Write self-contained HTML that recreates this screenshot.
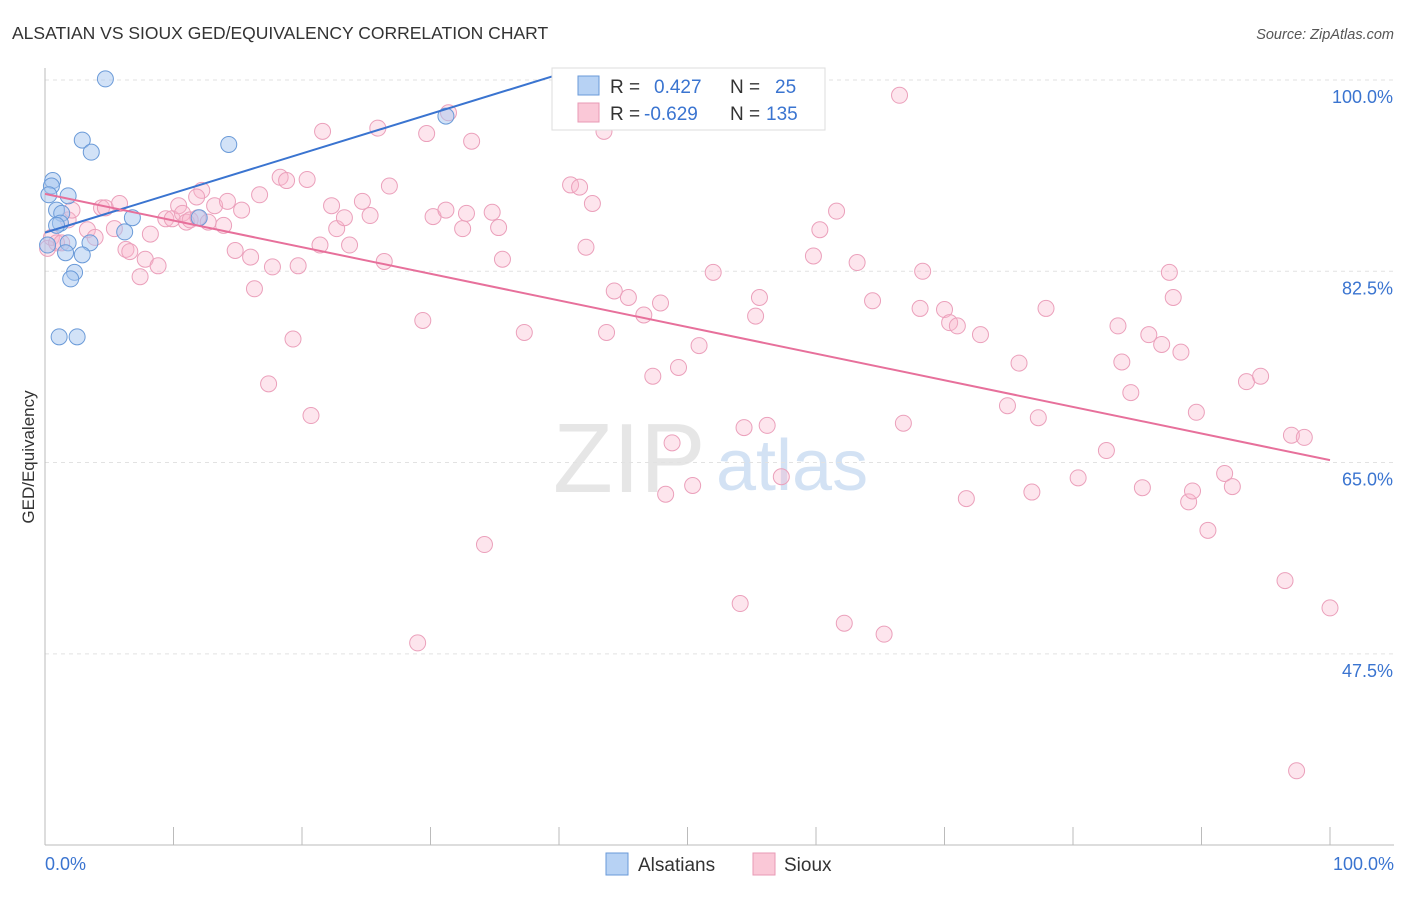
<!DOCTYPE html>
<html><head><meta charset="utf-8">
<style>
body{margin:0;background:#fff;font-family:"Liberation Sans",sans-serif;}
svg text{font-family:"Liberation Sans",sans-serif;}
</style></head>
<body>
<svg id="chart" width="1406" height="892" viewBox="0 0 1406 892" xmlns="http://www.w3.org/2000/svg">
<text x="12" y="39" font-size="17.5" fill="#333">ALSATIAN VS SIOUX GED/EQUIVALENCY CORRELATION CHART</text>
<text x="1394" y="39" font-size="14.5" fill="#555" font-style="italic" text-anchor="end">Source: ZipAtlas.com</text>
<text transform="translate(34,457) rotate(-90)" font-size="17" fill="#333" text-anchor="middle">GED/Equivalency</text>
<g opacity="0.5">
<text x="553" y="492" font-size="98" font-family="Liberation Serif,serif" fill="#cfcfcf">ZIP</text>
<text x="716" y="490" font-size="72" fill="#a9c6ea">atlas</text>
</g>
<g id="grid"></g>
<g id="axes"></g>
<defs><clipPath id="plotclip"><rect x="44" y="74" width="1300" height="772"/></clipPath></defs>
<g id="pts"></g>
<g id="lines" clip-path="url(#plotclip)"></g>
<g>
<rect x="552" y="68" width="273" height="62" fill="#fff" stroke="#ddd"/>
<rect x="578" y="76" width="21" height="19" fill="#b7d2f4" stroke="#6a9ad8"/>
<text x="610" y="93" font-size="19" fill="#333">R =</text>
<text x="654" y="93" font-size="19" fill="#3a74d0">0.427</text>
<text x="730" y="93" font-size="19" fill="#333">N =</text>
<text x="775" y="93" font-size="19" fill="#3a74d0">25</text>
<rect x="578" y="103" width="21" height="19" fill="#fac8d7" stroke="#e89ab5"/>
<text x="610" y="120" font-size="19" fill="#333">R =</text>
<text x="644" y="120" font-size="19" fill="#3a74d0">-0.629</text>
<text x="730" y="120" font-size="19" fill="#333">N =</text>
<text x="766" y="120" font-size="19" fill="#3a74d0">135</text>
</g>
<g>
<rect x="606" y="853" width="22" height="22" fill="#b7d2f4" stroke="#6a9ad8"/>
<text x="638" y="871" font-size="19" fill="#333">Alsatians</text>
<rect x="753" y="853" width="22" height="22" fill="#fac8d7" stroke="#e89ab5"/>
<text x="784" y="871" font-size="19" fill="#333">Sioux</text>
</g>
</svg>
<script>
const yTicks=[100,82.5,65,47.5];
const yTickLabels=["100.0%","82.5%","65.0%","47.5%"];
const xTickLabels=["0.0%","100.0%"];
const alsX=[4.7,2.9,3.6,14.3,31.2,0.6,0.5,0.3,1.8,0.9,1.3,1.2,0.9,6.8,12.0,6.2,1.8,3.5,1.6,2.9,2.3,2.0,1.1,2.5,0.2];
const alsY=[100.1,94.5,93.4,94.1,96.7,90.8,90.3,89.5,89.4,88.1,87.8,86.9,86.7,87.4,87.4,86.1,85.1,85.1,84.2,84.0,82.4,81.8,76.5,76.5,84.9];
const siouxX=[0.2,0.5,0.9,1.3,1.8,2.1,3.3,3.9,4.4,4.7,5.4,5.8,6.3,6.6,7.4,7.8,8.2,8.8,9.4,9.9,10.4,10.7,11.0,11.3,11.9,12.2,11.8,12.7,13.2,13.9,14.2,14.8,15.3,16.0,16.3,16.7,17.4,17.7,18.3,18.8,19.3,19.7,20.4,20.7,21.4,21.6,22.3,22.7,23.3,23.7,24.7,25.3,25.9,26.4,26.8,29.4,29.7,30.2,31.2,31.4,32.5,32.8,33.2,34.2,34.8,35.3,35.6,29.0,37.3,40.9,41.6,42.1,42.6,43.5,43.7,44.3,45.4,46.6,47.3,47.9,48.3,48.8,49.3,50.4,50.9,52.0,54.1,54.4,55.3,55.6,56.2,57.3,59.8,60.3,61.6,62.2,63.2,64.4,65.3,66.5,66.8,68.1,68.3,70.0,70.4,71.0,71.7,72.8,74.9,75.8,76.8,77.3,77.9,80.4,82.6,83.5,83.8,84.5,85.4,85.9,86.9,87.5,87.8,88.4,89.0,89.3,89.6,90.5,91.8,92.4,93.5,94.6,96.5,97.0,98.0,100,97.4];
const siouxY=[84.6,85.6,85.1,85.1,87.2,88.1,86.3,85.6,88.3,88.3,86.4,88.7,84.5,84.3,82.0,83.6,85.9,83.0,87.3,87.3,88.5,87.8,87.0,87.2,87.4,89.9,89.3,87.0,88.5,86.7,88.9,84.4,88.1,83.8,80.9,89.5,72.2,82.9,91.1,90.8,76.3,83.0,90.9,69.3,84.9,95.3,88.5,86.4,87.4,84.9,88.9,87.6,95.6,83.4,90.3,78.0,95.1,87.5,88.1,97.0,86.4,87.8,94.4,57.5,87.9,86.5,83.6,48.5,76.9,90.4,90.2,84.7,88.7,95.3,76.9,80.7,80.1,78.5,72.9,79.6,62.1,66.8,73.7,62.9,75.7,82.4,52.1,68.2,78.4,80.1,68.4,63.7,83.9,86.3,88.0,50.3,83.3,79.8,49.3,98.6,68.6,79.1,82.5,79.0,77.8,77.5,61.7,76.7,70.2,74.1,62.3,69.1,79.1,63.6,66.1,77.5,74.2,71.4,62.7,76.7,75.8,82.4,80.1,75.1,61.4,62.4,69.6,58.8,64.0,62.8,72.4,72.9,54.2,67.5,67.3,51.7,36.8];
const NS="http://www.w3.org/2000/svg";
const X0=45,X1=1330,YTOP=80,PXPER=10.93;
function sx(v){return X0+(X1-X0)*v/100;}
function sy(v){return YTOP+(100-v)*PXPER;}
function mk(tag,attrs,parent){const e=document.createElementNS(NS,tag);for(const k in attrs)e.setAttribute(k,attrs[k]);parent.appendChild(e);return e;}
const grid=document.getElementById('grid'),axes=document.getElementById('axes');
yTicks.forEach((t,i)=>{
  const l=mk('line',{x1:45,x2:1394,y1:sy(t),y2:sy(t),stroke:'#e2e2e2','stroke-dasharray':'4,4'},grid);
  
  
  const tx=mk('text',{x:1393,y:sy(t)+23,'font-size':18,fill:'#3a74d0','text-anchor':'end'},axes);
  tx.textContent=yTickLabels[i];
  
  
});
let a=mk('line',{x1:45,x2:45,y1:68,y2:845,stroke:'#bbb'},axes);


a=mk('line',{x1:45,x2:1394,y1:845,y2:845,stroke:'#bbb'},axes);


for(let i=0;i<=10;i++){
  const t=mk('line',{x1:sx(i*10),x2:sx(i*10),y1:827,y2:845,stroke:'#bbb'},axes);
  
  
}
let xl=mk('text',{x:45,y:870,'font-size':18,fill:'#3a74d0'},axes);xl.textContent=xTickLabels[0];


xl=mk('text',{x:1394,y:870,'font-size':18,fill:'#3a74d0','text-anchor':'end'},axes);xl.textContent=xTickLabels[1];


const pts=document.getElementById('pts');
siouxX.forEach((x,i)=>{
  const c=mk('circle',{cx:sx(x),cy:sy(siouxY[i]),r:8,fill:'rgba(248,180,202,0.35)',stroke:'#eba0bb','stroke-width':1},pts);
  
  
});
alsX.forEach((x,i)=>{
  const c=mk('circle',{cx:sx(x),cy:sy(alsY[i]),r:8,fill:'rgba(165,198,240,0.5)',stroke:'#6a9ad8','stroke-width':1},pts);
  
  
});
function fit(xs,ys){const n=xs.length;let mx=0,my=0;for(let i=0;i<n;i++){mx+=xs[i];my+=ys[i];}mx/=n;my/=n;let sxy=0,sxx=0;for(let i=0;i<n;i++){sxy+=(xs[i]-mx)*(ys[i]-my);sxx+=(xs[i]-mx)**2;}const b=sxy/sxx;return [my-b*mx,b];}
const lines=document.getElementById('lines');
let [a1,b1]=fit(alsX,alsY);
let l1=mk('line',{x1:sx(0),y1:sy(a1),x2:sx(60),y2:sy(a1+b1*60),stroke:'#3a74d0','stroke-width':2},lines);


let [a2,b2]=fit(siouxX,siouxY);
let l2=mk('line',{x1:sx(0),y1:sy(a2),x2:sx(100),y2:sy(a2+b2*100),stroke:'#e7709b','stroke-width':2},lines);


</script>
</body></html>
